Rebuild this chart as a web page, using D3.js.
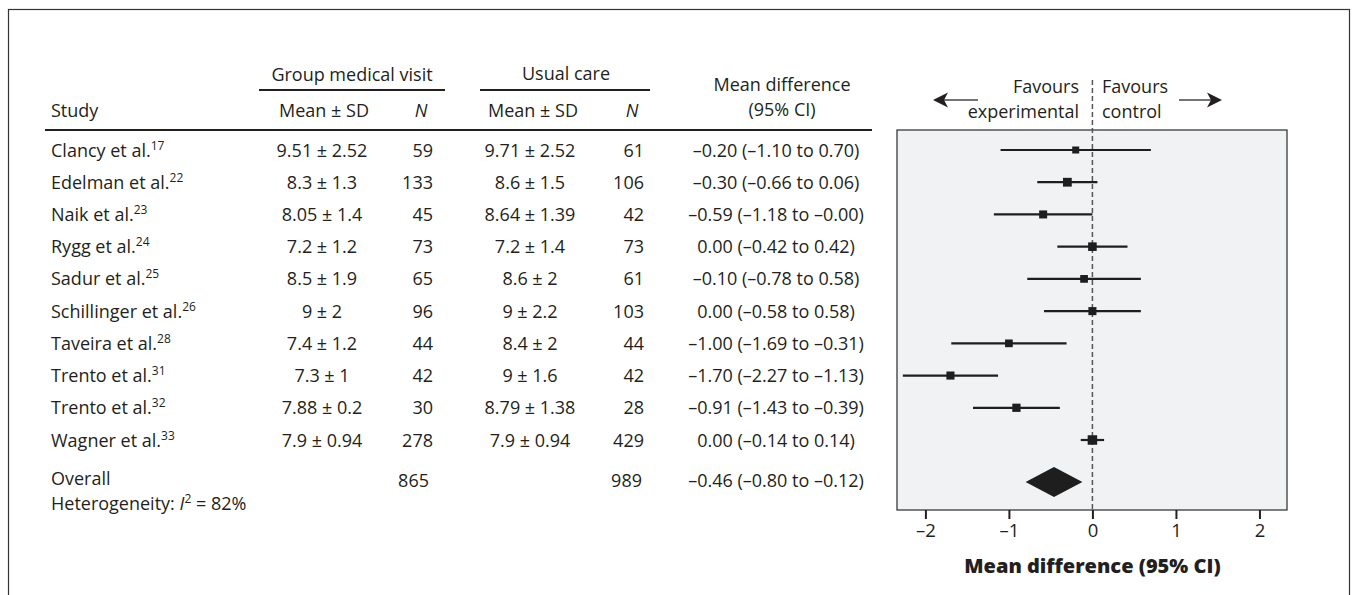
<!DOCTYPE html>
<html>
<head>
<meta charset="utf-8">
<script src="https://cdn.jsdelivr.net/npm/d3@7"></script>
<style>
  body { margin: 0; background: #ffffff; }
  svg { font-family: "Open Sans", "Noto Sans", sans-serif; fill: #231f20; }
</style>
</head>
<body>
<div class="forest"></div>
<script>
// ************************DATA*************************

const studies = ["Clancy et al.", "Edelman et al.", "Naik et al.", "Rygg et al.", "Sadur et al.",
  "Schillinger et al.", "Taveira et al.", "Trento et al.", "Trento et al.", "Wagner et al."]
const refs = ["17", "22", "23", "24", "25", "26", "28", "31", "32", "33"]

// group medical visit arm
const gmvMeanSd = ["9.51 ± 2.52", "8.3 ± 1.3", "8.05 ± 1.4", "7.2 ± 1.2", "8.5 ± 1.9",
  "9 ± 2", "7.4 ± 1.2", "7.3 ± 1", "7.88 ± 0.2", "7.9 ± 0.94"]
const gmvN = [59, 133, 45, 73, 65, 96, 44, 42, 30, 278]

// usual care arm
const ucMeanSd = ["9.71 ± 2.52", "8.6 ± 1.5", "8.64 ± 1.39", "7.2 ± 1.4", "8.6 ± 2",
  "9 ± 2.2", "8.4 ± 2", "9 ± 1.6", "8.79 ± 1.38", "7.9 ± 0.94"]
const ucN = [61, 106, 42, 73, 61, 103, 44, 42, 28, 429]

// mean difference and 95% CI
const md = [-0.20, -0.30, -0.59, 0.00, -0.10, 0.00, -1.00, -1.70, -0.91, 0.00]
const ciLow = [-1.10, -0.66, -1.18, -0.42, -0.78, -0.58, -1.69, -2.27, -1.43, -0.14]
const ciHigh = [0.70, 0.06, -0.00, 0.42, 0.58, 0.58, -0.31, -1.13, -0.39, 0.14]

// pooled result
const overall = [-0.46, -0.80, -0.12]
const overallN = [865, 989]
const heterogeneity = 82

const xTicks = [-2, -1, 0, 1, 2]

// ********************HELPERS**********************

// en dash for negatives, keeps -0.00
const fmt = (v) => ((v < 0 || Object.is(v, -0)) ? "\u2013" : "") + Math.abs(v).toFixed(2)
const ciText = (m, l, h) => fmt(m) + " (" + fmt(l) + " to " + fmt(h) + ")"

const width = 1355
const height = 595

// column positions
const col = {
  study: 51,
  gmvSd: 322,
  gmvN: 433,
  ucSd: 530,
  ucN: 644,
  md: 776
}

const plot = { left: 897, right: 1287, top: 130, bottom: 510 }

// ********************DRAW**********************

const svg = d3.select(".forest")
  .append("svg")
  .attr("width", width)
  .attr("height", height)

// outer frame
svg.append("rect")
  .attr("x", 8.5)
  .attr("y", 9.5)
  .attr("width", 1341)
  .attr("height", 620)
  .attr("fill", "none")
  .attr("stroke", "#333")
  .attr("stroke-width", 1.2)

// scales
const xScale = d3.scaleLinear()
  .domain([-2.34, 2.33])
  .range([plot.left, plot.right])

const yScale = d3.scaleLinear()
  .domain([0, 9])
  .range([150, 440])

const overallRow = 10.3

const sizeScale = d3.scaleLinear()
  .domain([0.28, 1.8])
  .range([9.5, 7])

const fs = 18
const supFs = 12

// ----- headers
const header = svg.append("g").attr("font-size", fs)

header.append("text").attr("x", 352).attr("y", 81).attr("text-anchor", "middle").text("Group medical visit")
header.append("text").attr("x", 566).attr("y", 80).attr("text-anchor", "middle").text("Usual care")
header.append("text").attr("x", 782).attr("y", 91).attr("text-anchor", "middle").text("Mean difference")
header.append("text").attr("x", 782).attr("y", 116).attr("text-anchor", "middle").text("(95% CI)")

header.append("text").attr("x", col.study).attr("y", 117).text("Study")
header.append("text").attr("x", 324).attr("y", 117).attr("text-anchor", "middle").text("Mean ± SD")
header.append("text").attr("x", 421).attr("y", 117).attr("text-anchor", "middle").attr("font-style", "italic").text("N")
header.append("text").attr("x", 533).attr("y", 117).attr("text-anchor", "middle").text("Mean ± SD")
header.append("text").attr("x", 632).attr("y", 117).attr("text-anchor", "middle").attr("font-style", "italic").text("N")

// header rules
svg.append("line").attr("x1", 259).attr("x2", 445).attr("y1", 90).attr("y2", 90)
  .attr("stroke", "#231f20").attr("stroke-width", 1.8)
svg.append("line").attr("x1", 480).attr("x2", 650).attr("y1", 90).attr("y2", 90)
  .attr("stroke", "#231f20").attr("stroke-width", 1.8)
svg.append("line").attr("x1", 45).attr("x2", 872).attr("y1", 130).attr("y2", 130)
  .attr("stroke", "#231f20").attr("stroke-width", 1.8)

// ----- table rows
const rows = svg.append("g")
  .attr("font-size", fs)
  .selectAll("g")
  .data(studies)
  .enter()
  .append("g")
  .attr("transform", (d, i) => "translate(0," + (yScale(i) + 6.5) + ")")

const studyText = rows.append("text").attr("x", col.study)
studyText.append("tspan").text((d) => d)
studyText.append("tspan")
  .attr("font-size", supFs)
  .attr("dy", -7)
  .text((d, i) => refs[i])

rows.append("text").attr("x", col.gmvSd).attr("text-anchor", "middle").text((d, i) => gmvMeanSd[i])
rows.append("text").attr("x", col.gmvN).attr("text-anchor", "end").text((d, i) => gmvN[i])
rows.append("text").attr("x", col.ucSd).attr("text-anchor", "middle").text((d, i) => ucMeanSd[i])
rows.append("text").attr("x", col.ucN).attr("text-anchor", "end").text((d, i) => ucN[i])
rows.append("text").attr("x", col.md).attr("text-anchor", "middle").text((d, i) => ciText(md[i], ciLow[i], ciHigh[i]))

// overall row
const oy = yScale(overallRow) + 3
const overallG = svg.append("g").attr("font-size", fs)
overallG.append("text").attr("x", col.study).attr("y", oy).text("Overall")
const het = overallG.append("text").attr("x", col.study).attr("y", oy + 25)
het.append("tspan").text("Heterogeneity: ")
het.append("tspan").attr("font-style", "italic").text("I")
het.append("tspan").attr("font-size", supFs).attr("dy", -7).text("2")
het.append("tspan").attr("dy", 7).text(" = " + heterogeneity + "%")
overallG.append("text").attr("x", col.gmvN - 4).attr("y", oy + 2).attr("text-anchor", "end").text(overallN[0])
overallG.append("text").attr("x", col.ucN - 2).attr("y", oy + 2).attr("text-anchor", "end").text(overallN[1])
overallG.append("text").attr("x", col.md).attr("y", oy + 2).attr("text-anchor", "middle")
  .text(ciText(overall[0], overall[1], overall[2]))

// ----- forest plot panel
svg.append("rect")
  .attr("x", plot.left)
  .attr("y", plot.top)
  .attr("width", plot.right - plot.left)
  .attr("height", plot.bottom - plot.top)
  .attr("fill", "#f1f2f4")
  .attr("stroke", "#3a3a3a")
  .attr("stroke-width", 1.3)

// line of no effect
svg.append("line")
  .attr("x1", xScale(0))
  .attr("x2", xScale(0))
  .attr("y1", 80)
  .attr("y2", plot.bottom)
  .attr("stroke", "#555")
  .attr("stroke-width", 1.5)
  .attr("stroke-dasharray", "5,3")

// CI lines
svg.selectAll(".ci")
  .data(studies)
  .enter()
  .append("line")
  .attr("class", "ci")
  .attr("x1", (d, i) => xScale(ciLow[i]))
  .attr("x2", (d, i) => xScale(ciHigh[i]))
  .attr("y1", (d, i) => yScale(i))
  .attr("y2", (d, i) => yScale(i))
  .attr("stroke", "#1e1e1e")
  .attr("stroke-width", 2.2)

// point estimates
svg.selectAll(".est")
  .data(studies)
  .enter()
  .append("rect")
  .attr("class", "est")
  .attr("x", (d, i) => xScale(md[i]) - sizeScale(ciHigh[i] - ciLow[i]) / 2)
  .attr("y", (d, i) => yScale(i) - sizeScale(ciHigh[i] - ciLow[i]) / 2)
  .attr("width", (d, i) => sizeScale(ciHigh[i] - ciLow[i]))
  .attr("height", (d, i) => sizeScale(ciHigh[i] - ciLow[i]))
  .attr("fill", "#1e1e1e")

// pooled diamond
const dy = yScale(overallRow)
svg.append("path")
  .attr("d", "M" + xScale(overall[1]) + "," + dy +
    "L" + xScale(overall[0]) + "," + (dy - 15) +
    "L" + xScale(overall[2]) + "," + dy +
    "L" + xScale(overall[0]) + "," + (dy + 15) + "Z")
  .attr("fill", "#1e1e1e")

// x-axis
const xAxis = d3.axisBottom(xScale)
  .tickValues(xTicks)
  .tickSize(9)
  .tickPadding(5)
  .tickFormat((d) => d < 0 ? "\u2013" + Math.abs(d) : d)

const axisG = svg.append("g")
  .attr("transform", "translate(0," + plot.bottom + ")")
  .call(xAxis)
axisG.select(".domain").remove()
axisG.selectAll(".tick line").attr("stroke", "#231f20").attr("stroke-width", 2)
axisG.selectAll(".tick text")
  .attr("font-family", "Open Sans, sans-serif")
  .attr("font-size", 18.5)
  .attr("fill", "#231f20")

// axis title
svg.append("text")
  .attr("x", xScale(0))
  .attr("y", 573)
  .attr("text-anchor", "middle")
  .attr("font-size", 20)
  .attr("font-weight", 800)
  .text("Mean difference (95% CI)")

// ----- favours labels and arrows
const fav = svg.append("g").attr("font-size", fs)
fav.append("text").attr("x", 1079).attr("y", 93).attr("text-anchor", "end").text("Favours")
fav.append("text").attr("x", 1079).attr("y", 118).attr("text-anchor", "end").text("experimental")
fav.append("text").attr("x", 1102).attr("y", 93).text("Favours")
fav.append("text").attr("x", 1102).attr("y", 118).text("control")

const arrowY = 100
svg.append("line").attr("x1", 978).attr("x2", 942).attr("y1", arrowY).attr("y2", arrowY)
  .attr("stroke", "#444").attr("stroke-width", 1.6)
svg.append("path")
  .attr("d", "M933," + arrowY + "L948," + (arrowY - 7.5) + "L944," + arrowY + "L948," + (arrowY + 7.5) + "Z")
  .attr("fill", "#231f20")
svg.append("line").attr("x1", 1179).attr("x2", 1213).attr("y1", arrowY).attr("y2", arrowY)
  .attr("stroke", "#444").attr("stroke-width", 1.6)
svg.append("path")
  .attr("d", "M1222," + arrowY + "L1207," + (arrowY - 7.5) + "L1211," + arrowY + "L1207," + (arrowY + 7.5) + "Z")
  .attr("fill", "#231f20")
</script>
</body>
</html>
